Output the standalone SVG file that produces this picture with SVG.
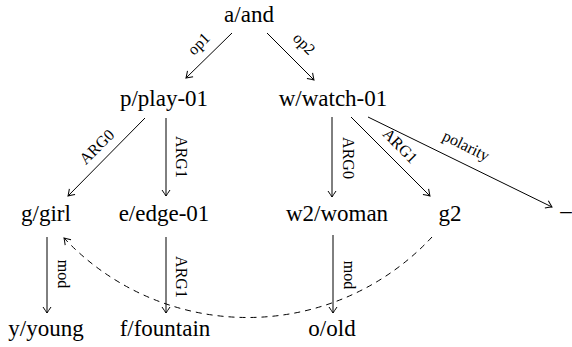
<svg xmlns="http://www.w3.org/2000/svg" width="572" height="347" viewBox="0 0 572 347">
<style>
.n{font-family:"Liberation Serif","Times New Roman",serif;font-size:23px;fill:#000;text-anchor:middle}
.l{font-family:"Liberation Serif","Times New Roman",serif;font-size:16px;fill:#000;text-anchor:middle}
.e{stroke:#000;stroke-width:1;fill:none;marker-end:url(#ah)}
.d{stroke-dasharray:6 5}
</style>
<defs>
<marker id="ah" markerUnits="userSpaceOnUse" markerWidth="12" markerHeight="12" viewBox="-8 -6 10 12" refX="0" refY="0" orient="auto">
<path d="M-6,-4 Q-2,-1.2 0,0 Q-2,1.2 -6,4" fill="none" stroke="#000" stroke-width="1"/>
</marker>
</defs>
<g id="nodes">
<g id="a"><text class="n" x="249" y="22">a/and</text></g>
<g id="p"><text class="n" x="164" y="106">p/play-01</text></g>
<g id="w"><text class="n" x="333" y="106">w/watch-01</text></g>
<g id="g"><text class="n" x="46" y="221">g/girl</text></g>
<g id="e"><text class="n" x="164" y="221">e/edge-01</text></g>
<g id="w2"><text class="n" x="337" y="221">w2/woman</text></g>
<g id="g2"><text class="n" x="450" y="221">g2</text></g>
<g id="neg"><text class="n" x="566" y="218">–</text></g>
<g id="y"><text class="n" x="46" y="336">y/young</text></g>
<g id="f"><text class="n" x="165" y="336">f/fountain</text></g>
<g id="o"><text class="n" x="332" y="336">o/old</text></g>
</g>
<g id="connectors">
<line class="e" x1="232" y1="33" x2="186" y2="78"/>
<line class="e" x1="267" y1="33" x2="314" y2="80"/>
<line class="e" x1="145" y1="118" x2="68" y2="196"/>
<line class="e" x1="166" y1="118" x2="166" y2="196"/>
<line class="e" x1="332" y1="117" x2="332" y2="197"/>
<line class="e" x1="351" y1="117" x2="430" y2="196"/>
<line class="e" x1="368" y1="117" x2="552" y2="207"/>
<line class="e" x1="47" y1="237" x2="47" y2="313"/>
<line class="e" x1="166" y1="237" x2="166" y2="313"/>
<line class="e" x1="333" y1="235" x2="333" y2="313"/>
<path class="e d" d="M432,237 A251.6,251.6 0 0 1 64,238"/>
<g id="labels">
<text class="l" transform="translate(199,44) rotate(-45)" y="5">op1</text>
<text class="l" transform="translate(304,44) rotate(45)" y="5">op2</text>
<text class="l" transform="translate(97,147) rotate(-45)" y="5">ARG0</text>
<text class="l" transform="translate(181,157) rotate(90)" y="5">ARG1</text>
<text class="l" transform="translate(348,158) rotate(90)" y="5">ARG0</text>
<text class="l" transform="translate(400,146) rotate(45)" y="5">ARG1</text>
<text class="l" transform="translate(466,146) rotate(26)" y="5">polarity</text>
<text class="l" transform="translate(63,274) rotate(90)" y="5">mod</text>
<text class="l" transform="translate(181,277) rotate(90)" y="5">ARG1</text>
<text class="l" transform="translate(349,275) rotate(90)" y="5">mod</text>
</g>
</g>
</svg>
